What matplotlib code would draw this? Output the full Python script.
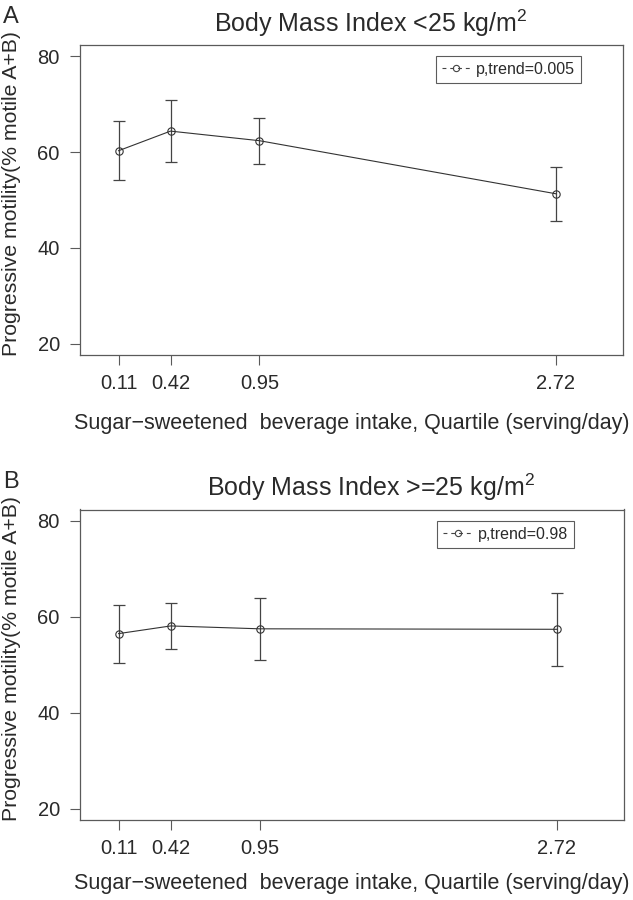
import matplotlib
matplotlib.use("Agg")
import matplotlib.pyplot as plt

plt.rcParams['font.family'] = ['Liberation Sans', 'DejaVu Sans']
plt.rcParams['mathtext.fontset'] = 'custom'
plt.rcParams['mathtext.rm'] = 'Liberation Sans'
plt.rcParams['mathtext.it'] = 'Liberation Sans'

# Data
intake = [0.11, 0.42, 0.95, 2.72]
tick_labels = ["0.11", "0.42", "0.95", "2.72"]
y_ticks = [20, 40, 60, 80]

mean_a = [60.3, 64.4, 62.4, 51.3]
upper_a = [66.5, 70.8, 67.2, 56.8]
lower_a = [54.2, 58.0, 57.5, 45.7]

mean_b = [56.5, 58.1, 57.5, 57.4]
upper_b = [62.5, 62.9, 64.0, 64.9]
lower_b = [50.4, 53.3, 51.0, 49.8]

titles = [r'Body Mass Index <25 kg/m$^2$', r'Body Mass Index >=25 kg/m$^2$']
legend_labels = ["p,trend=0.005", "p,trend=0.98"]
panel_letters = ["A", "B"]
xlabel = "Sugar\u2212sweetened  beverage intake, Quartile (serving/day)"
ylabel = "Progressive motility(% motile A+B)"

W, H = 633, 900
fig = plt.figure(figsize=(W / 100, H / 100), dpi=100)

panels = [
    dict(box=(80, 45, 623, 355), mean=mean_a, up=upper_a, lo=lower_a,
         leg=(581.3, 56), title_y=31.7, letter_y=23, xlab_y=429),
    dict(box=(80, 509.5, 624, 820), mean=mean_b, up=upper_b, lo=lower_b,
         leg=(574, 520.5), title_y=496, letter_y=488, xlab_y=889),
]

edge = '#5a5a5a'
dark = '#2a2a2a'
for i, p in enumerate(panels):
    l, t, r, b = p['box']
    ax = fig.add_axes([l / W, 1 - b / H, (r - l) / W, (b - t) / H])
    m = p['mean']
    yerr = [[mi - lo for mi, lo in zip(m, p['lo'])], [up - mi for mi, up in zip(m, p['up'])]]
    ax.errorbar(intake, m, yerr=yerr, fmt='none', ecolor='#444444', elinewidth=0.9,
                capsize=4, capthick=0.9)
    ax.plot(intake, m, color='#333333', lw=0.8, marker='o', ms=5.3, mfc='none',
            mec='#333333', mew=0.8)
    ax.plot([], [], color='#444444', lw=0.8, ls=(0, (3.5, 3.5)), marker='o', ms=4.5,
            mfc='none', mec='#444444', mew=0.8, label=legend_labels[i])
    ax.set_xlim(-0.12, 3.12)
    ax.set_ylim(17.6, 82.4)
    ax.set_xticks(intake)
    ax.set_xticklabels(tick_labels)
    ax.set_yticks(y_ticks)
    ax.tick_params(axis='both', length=7, width=0.8, color=edge, labelsize=14.5,
                   labelcolor=dark)
    ax.tick_params(axis='x', pad=6.5)
    ax.tick_params(axis='y', pad=7.5)
    for s in ax.spines.values():
        s.set_color(edge)
        s.set_linewidth(0.9)
    lx, ly = p['leg']
    leg = ax.legend(loc='upper right',
                    bbox_to_anchor=((lx - l) / (r - l), (b - ly) / (b - t)),
                    borderaxespad=0, fancybox=False, frameon=True, fontsize=11.5,
                    handlelength=1.8, handletextpad=0.35, borderpad=0.38)
    leg.get_frame().set_edgecolor('#333333')
    leg.get_frame().set_linewidth(0.8)
    for txt in leg.get_texts():
        txt.set_color(dark)
    fig.text(371 / W, 1 - p['title_y'] / H, titles[i], ha='center', va='baseline',
             fontsize=18, color=dark)
    fig.text(3 / W, 1 - p['letter_y'] / H, panel_letters[i], ha='left', va='baseline',
             fontsize=17, color=dark)
    fig.text(352 / W, 1 - p['xlab_y'] / H, xlabel, ha='center', va='baseline',
             fontsize=15.5, color=dark)
    fig.text(12 / W, 1 - ((t + b) / 2 - 6) / H, ylabel, ha='center', va='center',
             rotation=90, fontsize=15.3, color=dark)

fig.savefig('out.png', dpi=100)
